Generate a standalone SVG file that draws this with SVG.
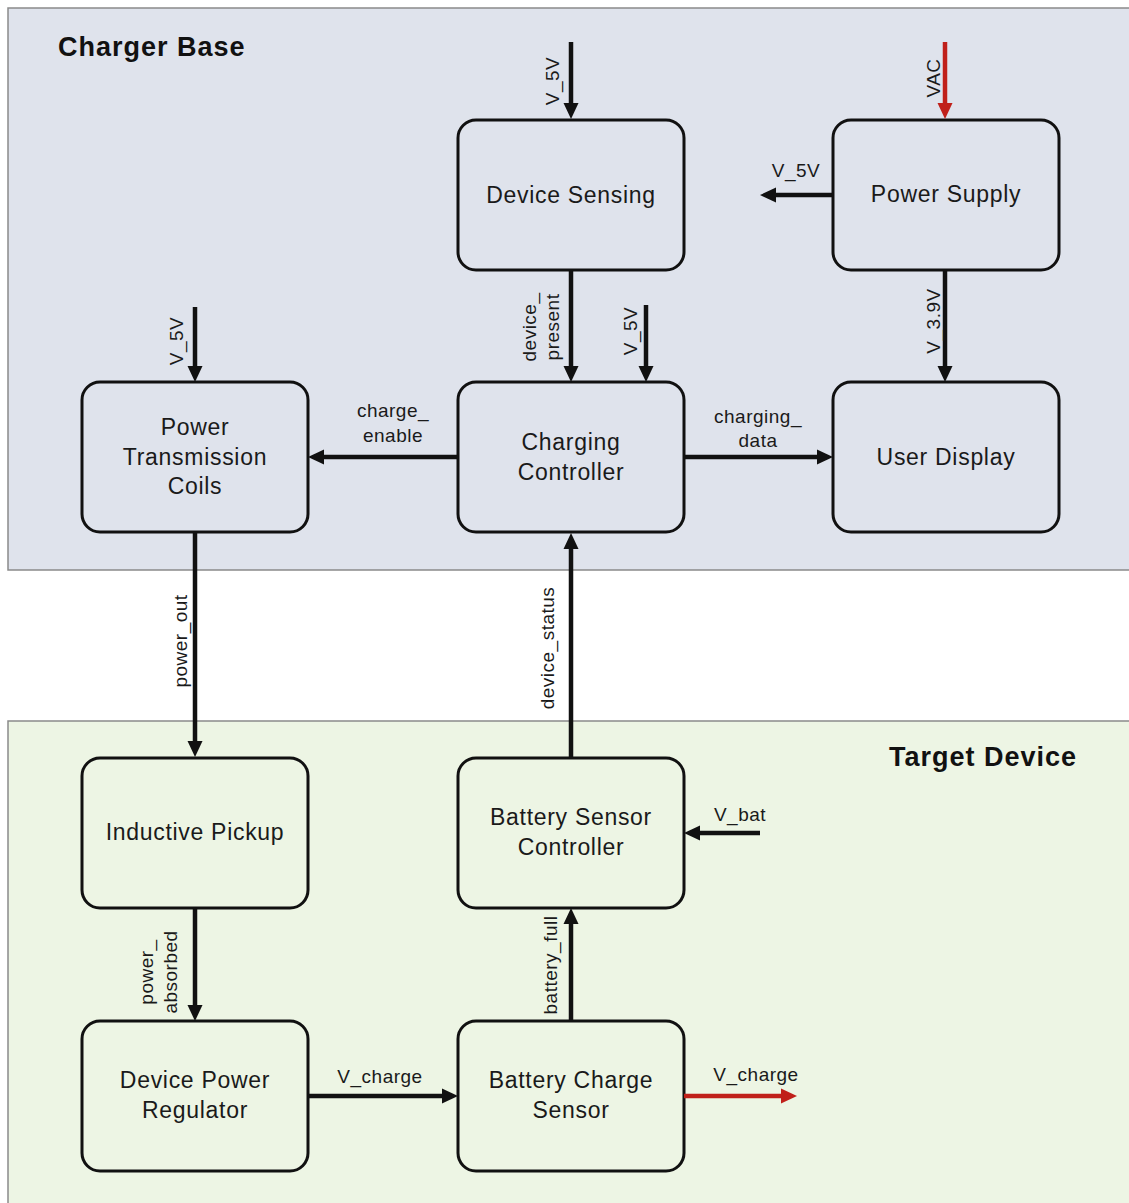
<svg xmlns="http://www.w3.org/2000/svg" width="1129" height="1203" viewBox="0 0 1129 1203">
<style>
  .panelA { fill:#dfe3ec; stroke:#8a8a8a; stroke-width:1.5; }
  .panelB { fill:#edf5e4; stroke:#8a8a8a; stroke-width:1.5; }
  .title { font-family:"Liberation Sans", Arial, sans-serif; font-weight:bold; font-size:27px; letter-spacing:1px; fill:#111; }
  .box { fill:none; stroke:#111; stroke-width:3; }
  .nt { font-family:"Liberation Sans", Arial, sans-serif; font-size:23px; letter-spacing:0.7px; fill:#1a1a1a; text-anchor:middle; }
  .lbl { font-family:"Liberation Sans", Arial, sans-serif; font-size:19px; letter-spacing:0.5px; fill:#1a1a1a; text-anchor:middle; }
  .w { fill:none; stroke:#111; stroke-width:4.5; marker-end:url(#ah); }
  .r { fill:none; stroke:#c0201a; stroke-width:4.5; marker-end:url(#ahr); }
</style>
<defs>
  <marker id="ah" viewBox="0 0 16 16" markerWidth="16" markerHeight="16" refX="8" refY="8" orient="auto" markerUnits="userSpaceOnUse">
    <path d="M0,0.5 L16,8 L0,15.5 z" fill="#111"/>
  </marker>
  <marker id="ahr" viewBox="0 0 16 16" markerWidth="16" markerHeight="16" refX="8" refY="8" orient="auto" markerUnits="userSpaceOnUse">
    <path d="M0,0.5 L16,8 L0,15.5 z" fill="#c0201a"/>
  </marker>
</defs>

<g id="panel-charger-base">
  <rect class="panelA" x="8" y="8" width="1130" height="562"/>
  <text class="title" x="58" y="56">Charger Base</text>
</g>
<g id="panel-target-device">
  <rect class="panelB" x="8" y="721" width="1130" height="490"/>
  <text class="title" x="889" y="766">Target Device</text>
</g>

<g id="node-device-sensing">
  <rect class="box" x="458" y="120" width="226" height="150" rx="18"/>
  <text class="nt" x="571" y="203">Device Sensing</text>
</g>
<g id="node-power-supply">
  <rect class="box" x="833" y="120" width="226" height="150" rx="18"/>
  <text class="nt" x="946" y="202">Power Supply</text>
</g>
<g id="node-power-transmission-coils">
  <rect class="box" x="82" y="382" width="226" height="150" rx="18"/>
  <text class="nt" x="195" y="435">Power</text>
  <text class="nt" x="195" y="465">Transmission</text>
  <text class="nt" x="195" y="494">Coils</text>
</g>
<g id="node-charging-controller">
  <rect class="box" x="458" y="382" width="226" height="150" rx="18"/>
  <text class="nt" x="571" y="450">Charging</text>
  <text class="nt" x="571" y="480">Controller</text>
</g>
<g id="node-user-display">
  <rect class="box" x="833" y="382" width="226" height="150" rx="18"/>
  <text class="nt" x="946" y="465">User Display</text>
</g>
<g id="node-inductive-pickup">
  <rect class="box" x="82" y="758" width="226" height="150" rx="18"/>
  <text class="nt" x="195" y="840">Inductive Pickup</text>
</g>
<g id="node-battery-sensor-controller">
  <rect class="box" x="458" y="758" width="226" height="150" rx="18"/>
  <text class="nt" x="571" y="825">Battery Sensor</text>
  <text class="nt" x="571" y="855">Controller</text>
</g>
<g id="node-device-power-regulator">
  <rect class="box" x="82" y="1021" width="226" height="150" rx="18"/>
  <text class="nt" x="195" y="1088">Device Power</text>
  <text class="nt" x="195" y="1118">Regulator</text>
</g>
<g id="node-battery-charge-sensor">
  <rect class="box" x="458" y="1021" width="226" height="150" rx="18"/>
  <text class="nt" x="571" y="1088">Battery Charge</text>
  <text class="nt" x="571" y="1118">Sensor</text>
</g>

<g id="connectors">
  <path class="w" d="M571,42 L571,111"/>
  <text class="lbl" transform="translate(552,81) rotate(-90)" dy="0.35em">V_5V</text>

  <path class="w" d="M571,270 L571,374"/>
  <text class="lbl" transform="translate(541,327) rotate(-90)"><tspan x="0" y="-5">device_</tspan><tspan x="0" y="18">present</tspan></text>

  <path class="w" d="M646,305 L646,374"/>
  <text class="lbl" transform="translate(630,331) rotate(-90)" dy="0.35em">V_5V</text>

  <path class="r" d="M945,42 L945,111"/>
  <text class="lbl" transform="translate(933,78) rotate(-90)" dy="0.35em">VAC</text>

  <path class="w" d="M833,195 L768,195"/>
  <text class="lbl" x="796" y="177">V_5V</text>

  <path class="w" d="M945,270 L945,374"/>
  <text class="lbl" transform="translate(933,321) rotate(-90)" dy="0.35em">V_3.9V</text>

  <path class="w" d="M195,307 L195,374"/>
  <text class="lbl" transform="translate(176,341) rotate(-90)" dy="0.35em">V_5V</text>

  <path class="w" d="M458,457 L316,457"/>
  <text class="lbl" x="393" y="417">charge_</text>
  <text class="lbl" x="393" y="442">enable</text>

  <path class="w" d="M684,457 L825,457"/>
  <text class="lbl" x="758" y="423">charging_</text>
  <text class="lbl" x="758" y="447">data</text>

  <path class="w" d="M195,532 L195,749"/>
  <text class="lbl" transform="translate(180,641) rotate(-90)" dy="0.35em">power_out</text>

  <path class="w" d="M571,758 L571,541"/>
  <text class="lbl" transform="translate(547,648) rotate(-90)" dy="0.35em">device_status</text>

  <path class="w" d="M760,833 L692,833"/>
  <text class="lbl" x="740" y="821">V_bat</text>

  <path class="w" d="M195,908 L195,1013"/>
  <text class="lbl" transform="translate(159,972) rotate(-90)"><tspan x="0" y="-6">power_</tspan><tspan x="0" y="18">absorbed</tspan></text>

  <path class="w" d="M571,1021 L571,916"/>
  <text class="lbl" transform="translate(550,965) rotate(-90)" dy="0.35em">battery_full</text>

  <path class="w" d="M308,1096 L450,1096"/>
  <text class="lbl" x="380" y="1083">V_charge</text>

  <path class="r" d="M684,1096 L789,1096"/>
  <text class="lbl" x="756" y="1081">V_charge</text>
</g>
</svg>
